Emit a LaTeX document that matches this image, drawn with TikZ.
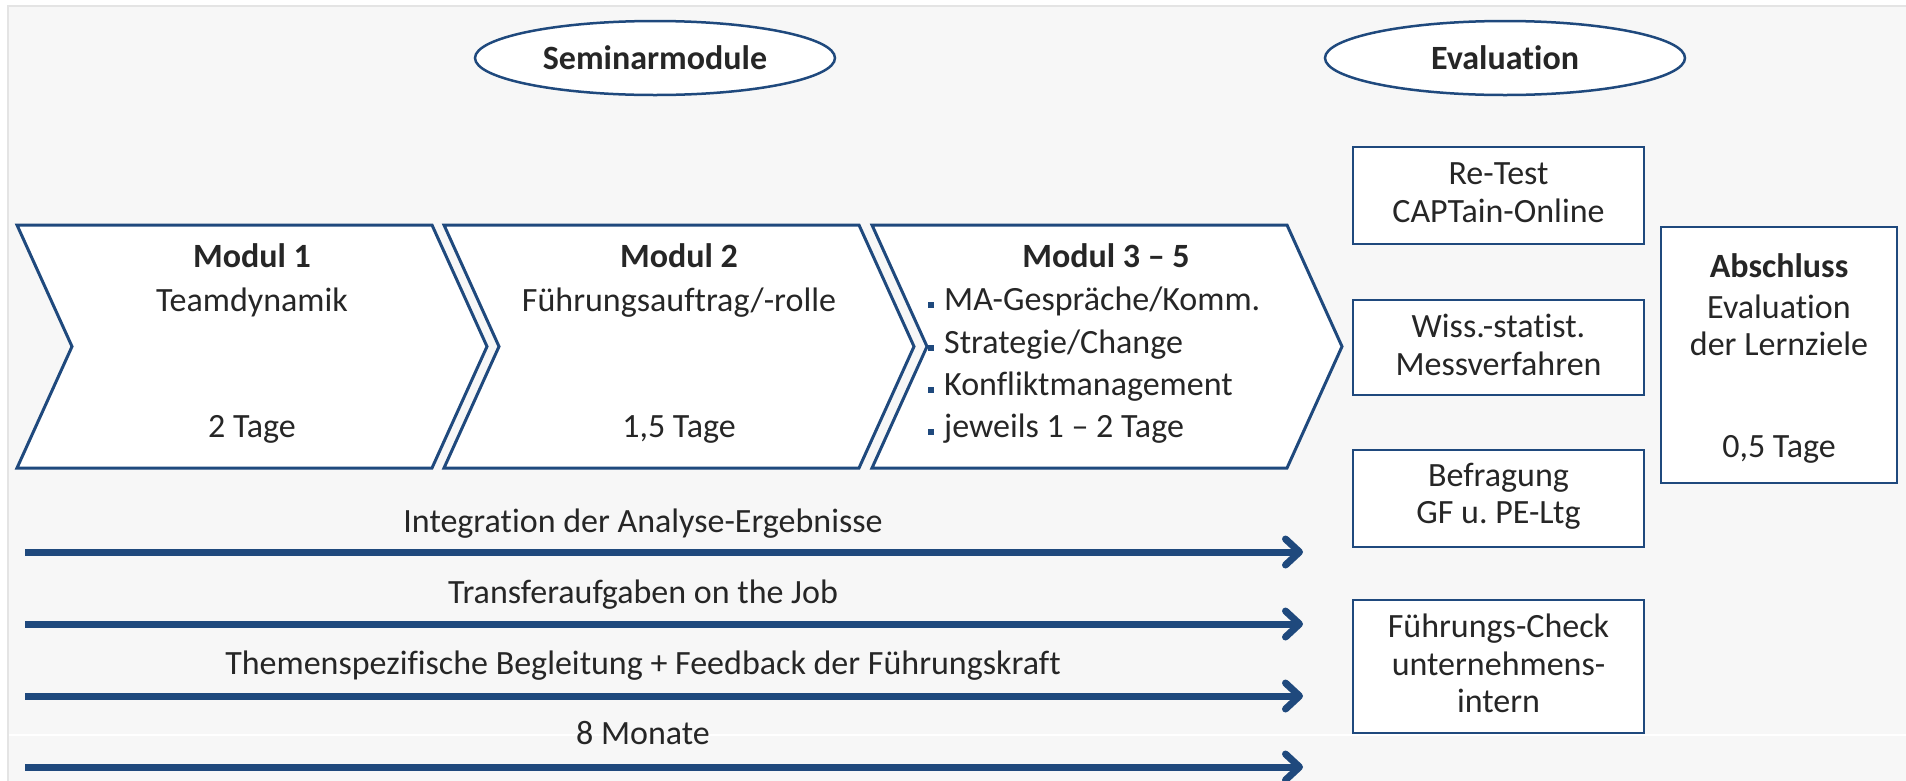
\documentclass[tikz,border=0pt]{standalone}
\usepackage{fontspec}
\setmainfont{Carlito}[Ligatures=NoCommon]
\usetikzlibrary{arrows.meta,shapes.geometric}
\definecolor{dblue}{RGB}{31,73,125}
\definecolor{txtc}{RGB}{38,38,38}
\definecolor{bgc}{RGB}{247,247,247}
\definecolor{framec}{RGB}{228,228,228}
\newcommand\myfs{\fontsize{34}{41}\selectfont}
\frenchspacing
\begin{document}
\begin{tikzpicture}[x=1pt,y=-1pt,
  txt/.style={anchor=base,inner sep=0pt,text=txtc,font=\myfs},
  btxt/.style={anchor=base,inner sep=0pt,text=txtc,font=\myfs\bfseries},
  chev/.style={draw=dblue,fill=white,line width=3pt,line join=miter},
  ebox/.style={draw=dblue,fill=white,line width=2.8pt,inner sep=0pt},
  oval/.style={ellipse,draw=dblue,fill=white,line width=2.5pt,inner sep=0pt,
    minimum width=360pt,minimum height=74pt,text=txtc,font=\myfs\bfseries},
  flow/.style={draw=dblue,line width=7pt,-{Straight Barb[length=14pt,width=26pt,round]}},
  bul/.style={fill=dblue,inner sep=0pt,minimum size=6pt}
]
\useasboundingbox (0,0) rectangle (1906,780);
\fill[white] (0,0) rectangle (1906,780);
\draw[framec,fill=bgc,line width=2pt] (8,6) rectangle (1912,786);
\draw[white,line width=1.5pt] (9,735) -- (1906,735);

% header ovals
\node[oval] (semi) at (655,58) {Seminarmodule};
\node[oval] (eval) at (1505,58) {Evaluation};

% chevrons
\foreach \dx/\nm in {0/c1,427/c2,855/c3}{
  \draw[chev,shift={(\dx,0)}] (17,225) -- (432,225) -- (487,346.5) -- (432,468)
     -- (17,468) -- (72,346.5) -- cycle;
}
% module 1
\node[btxt] (m1t) at (252,267) {Modul 1};
\node[txt]  (m1s) at (252,311) {Teamdynamik};
\node[txt]  (m1d) at (252,437) {2 Tage};
% module 2
\node[btxt] (m2t) at (679,267) {Modul 2};
\node[txt]  (m2s) at (679,311) {Führungsauftrag/-rolle};
\node[txt]  (m2d) at (679,437) {1,5 Tage};
% module 3-5
\node[btxt] (m3t) at (1106,267) {Modul 3 – 5};
\foreach \y/\t/\n in {310/{MA-Gespräche/Komm.}/1,353/{Strategie/Change}/2,395/{Konfliktmanagement}/3,437/{jeweils 1 – 2 Tage}/4}{
  \node[bul] (b\n) at (931,\y-5.5) {};
  \node[txt,anchor=base west] (l\n) at (944,\y) {\t};
}

% flow arrows
\coordinate (a1s) at (25,552); \coordinate (a1e) at (1303,552);
\coordinate (a2s) at (25,624); \coordinate (a2e) at (1303,624);
\coordinate (a3s) at (25,696); \coordinate (a3e) at (1303,696);
\coordinate (a4s) at (25,767); \coordinate (a4e) at (1303,767);
\draw[flow] (a1s) -- (a1e);
\draw[flow] (a2s) -- (a2e);
\draw[flow] (a3s) -- (a3e);
\draw[flow] (a4s) -- (a4e);
\node[txt] (f1) at (643,532) {Integration der Analyse-Ergebnisse};
\node[txt] (f2) at (643,603) {Transferaufgaben on the Job};
\node[txt] (f3) at (643,674) {Themenspezifische Begleitung + Feedback der Führungskraft};
\node[txt] (f4) at (643,744) {8 Monate};

% evaluation boxes
\node[ebox,minimum width=291pt,minimum height=97pt] (rt) at (1498.5,195.5) {};
\node[txt] (rt1) at (1498.5,184) {Re-Test};
\node[txt] (rt2) at (1498.5,222) {CAPTain-Online};

\node[ebox,minimum width=291pt,minimum height=95pt] (ws) at (1498.5,347.5) {};
\node[txt] (ws1) at (1498.5,337) {Wiss.-statist.};
\node[txt] (ws2) at (1498.5,375) {Messverfahren};

\node[ebox,minimum width=291pt,minimum height=97pt] (bf) at (1498.5,498.5) {};
\node[txt] (bf1) at (1498.5,486) {Befragung};
\node[txt] (bf2) at (1498.5,523) {GF u. PE-Ltg};

\node[ebox,minimum width=291pt,minimum height=133pt] (fc) at (1498.5,666.5) {};
\node[txt] (fc1) at (1498.5,637) {Führungs-Check};
\node[txt] (fc2) at (1498.5,675) {unternehmens-};
\node[txt] (fc3) at (1498.5,712) {intern};

\node[ebox,minimum width=236pt,minimum height=256pt] (ab) at (1779,355) {};
\node[btxt] (ab1) at (1779,277) {Abschluss};
\node[txt] (ab2) at (1779,318) {Evaluation};
\node[txt] (ab3) at (1779,355) {der Lernziele};
\node[txt] (ab4) at (1779,457) {0,5 Tage};
\end{tikzpicture}
\end{document}
